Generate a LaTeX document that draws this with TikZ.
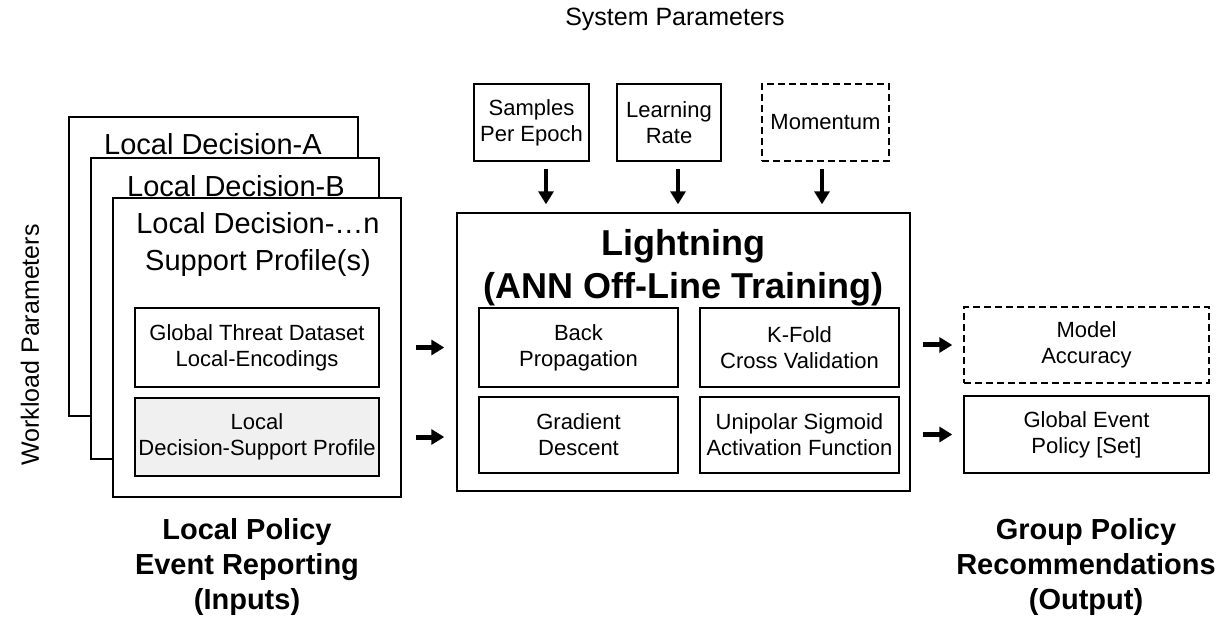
\documentclass[tikz,border=0pt]{standalone}
\usepackage{fontspec}
\setmainfont{Liberation Sans}
\usetikzlibrary{arrows.meta}

\begin{document}
\begin{tikzpicture}[x=1pt,y=-1pt,
    box/.style={draw,line width=1.4pt,inner sep=0pt,align=center,
      font=\fontsize{22}{26}\selectfont},
    dashbox/.style={box,dash pattern=on 7pt off 4pt},
    lbl/.style={draw=none,fill=none,inner sep=0pt,align=center},
    darr/.style={line width=4pt,-{Triangle[width=15pt,length=13pt]}},
    sarr/.style={line width=5pt,-{Triangle[width=15pt,length=13pt]}}]

      \useasboundingbox (0,0) rectangle (1224,620);

      % stacked profiles
      \begin{scope}[every node/.style={box,fill=white}]
        \node[minimum width=289pt,minimum height=299pt] (stackA) at (213.5,266.5) {};
        \node[lbl,font=\fontsize{29}{37}\selectfont] (titleA) at (213,144) {Local Decision-A};
        \node[minimum width=288pt,minimum height=301pt] (stackB) at (235,308.5) {};
        \node[lbl,font=\fontsize{29}{37}\selectfont] (titleB) at (236,186) {Local Decision-B};
        \node[minimum width=288pt,minimum height=299pt] (stackN) at (257,347.5) {};
        \node[lbl,font=\fontsize{29}{37}\selectfont] (titleN) at (258,245)
          {Local Decision-…n\\Support Profile(s)};
        \node[minimum width=244pt,minimum height=79pt] (enc) at (257,347.5)
          {Global Threat Dataset\\Local-Encodings};
        \node[minimum width=244pt,minimum height=78pt,fill=gray!12] (prof) at (257,437)
          {Local\\Decision-Support Profile};
      \end{scope}

      % training block
      \node[box,minimum width=453pt,minimum height=278pt] (light) at (683.5,352) {};
      \node[lbl,font=\fontsize{36}{43}\selectfont\bfseries] (ltitle) at (683.5,268)
        {Lightning\\(ANN Off-Line Training)};

      \begin{scope}[every node/.style={box,minimum width=199pt}]
        \node[minimum height=79pt] (back)  at (578.5,347.5) {Back\\Propagation};
        \node[minimum height=79pt] (kfold) at (799.5,347.5) {K-Fold\\Cross Validation};
        \node[minimum height=76pt] (grad)  at (578.5,435) {Gradient\\Descent};
        \node[minimum height=76pt] (sig)   at (799.5,435) {Unipolar Sigmoid\\Activation Function};
      \end{scope}

      % system parameters
      \begin{scope}[every node/.style={box,minimum height=77pt}]
        \node[minimum width=115pt] (samples) at (531.5,122.5) {Samples\\Per Epoch};
        \node[minimum width=104pt] (rate)    at (669,122.5) {Learning\\Rate};
        \node[dashbox,minimum width=127pt] (mom) at (825.5,122.5) {Momentum};
      \end{scope}

      % outputs
      \node[dashbox,minimum width=245pt,minimum height=76pt] (acc) at (1086.5,345) {Model\\Accuracy};
      \node[box,minimum width=245pt,minimum height=77pt] (gep) at (1086.5,434.5) {Global Event\\Policy [Set]};

      % labels
      \begin{scope}[every node/.style={lbl}]
        \node[font=\fontsize{25}{30}\selectfont] (sys) at (675,19) {System Parameters};
        \node[font=\fontsize{25}{30}\selectfont,rotate=90] (work) at (30,345) {Workload Parameters};
        \node[font=\fontsize{29}{35}\selectfont\bfseries] (inp) at (247,567)
          {Local Policy\\Event Reporting\\(Inputs)};
        \node[font=\fontsize{29}{35}\selectfont\bfseries] (outp) at (1086,567)
          {Group Policy\\Recommendations\\(Output)};
      \end{scope}

      % arrows
      \draw[darr,shorten <=7pt,shorten >=8pt] ([xshift=14.5pt]samples.south) -- ([xshift=14.5pt]samples.south |- light.north);
      \draw[darr,shorten <=7pt,shorten >=8pt] ([xshift=9pt]rate.south) -- ([xshift=9pt]rate.south |- light.north);
      \draw[darr,shorten <=7pt,shorten >=8pt] ([xshift=-3.5pt]mom.south) -- ([xshift=-3.5pt]mom.south |- light.north);
      \draw[sarr,shorten <=14pt,shorten >=12pt] (stackN.east |- enc) -- (light.west |- enc);
      \draw[sarr,shorten <=14pt,shorten >=12pt] (stackN.east |- prof) -- (light.west |- prof);
      \draw[sarr,shorten <=12pt,shorten >=11pt] (light.east |- acc) -- (acc.west);
      \draw[sarr,shorten <=12pt,shorten >=11pt] (light.east |- gep) -- (gep.west);

    \end{tikzpicture}
\end{document}
